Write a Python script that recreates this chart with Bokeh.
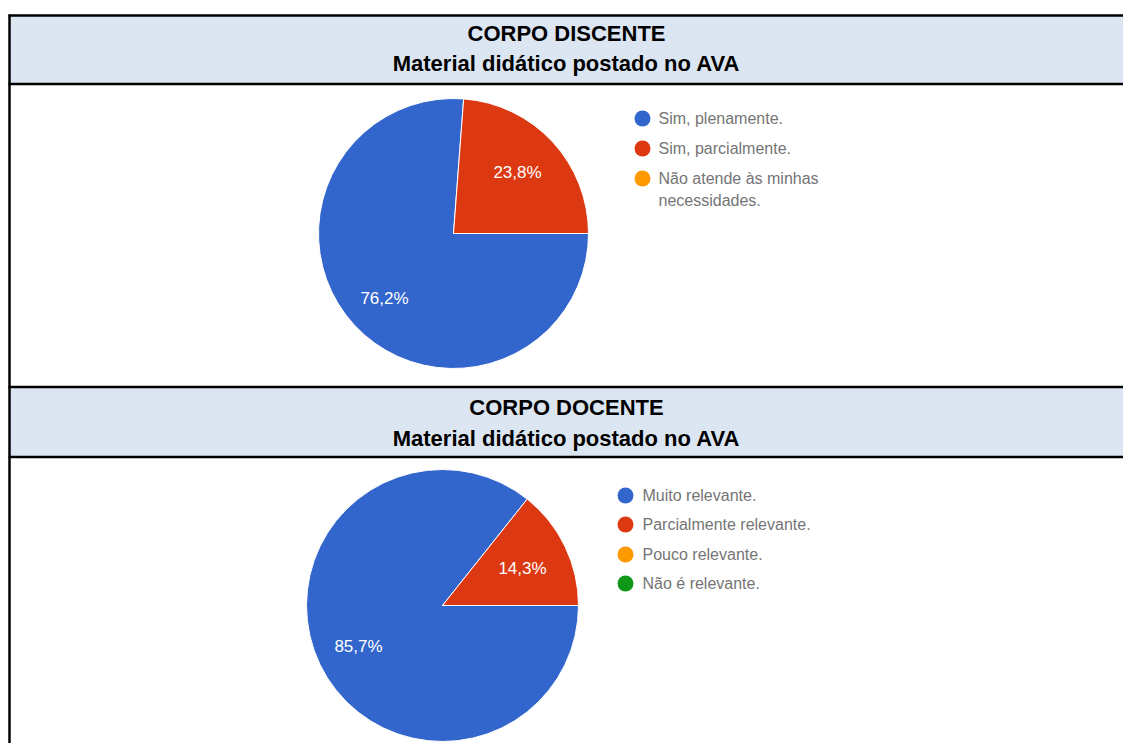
from bokeh.plotting import figure
from bokeh.models import Range1d
from bokeh.core.properties import value
from bokeh.embed import file_html
from bokeh.resources import INLINE
import math

# ---- data ----
titles_top = ["CORPO DISCENTE", "Material didático postado no AVA"]
titles_bottom = ["CORPO DOCENTE", "Material didático postado no AVA"]

disc_categories = ["Sim, plenamente.", "Sim, parcialmente.", "Não atende às minhas\nnecessidades."]
disc_values = [76.2, 23.8, 0.0]

doc_categories = ["Muito relevante.", "Parcialmente relevante.", "Pouco relevante.", "Não é relevante."]
doc_values = [85.7, 14.3, 0.0, 0.0]

colors = ["#3366CC", "#DC3912", "#FF9900", "#109618"]

W, H = 1123, 743


def Y(py):
    return H - py


def X(px):
    return px


p = figure(width=W, height=H, output_backend="svg", toolbar_location=None,
           x_range=Range1d(0, W), y_range=Range1d(0, H),
           x_axis_location=None, y_axis_location=None, min_border=0)
p.grid.visible = False
p.outline_line_color = None
p.background_fill_color = "white"

font = value("Liberation Sans")

# header bands
for top, bot in [(15, 83), (387, 456)]:
    p.quad(left=X(9), right=W, top=Y(top), bottom=Y(bot), fill_color="#DCE6F2", line_color=None)

# horizontal table lines
for yy in [15, 83.5, 386.5, 456.5]:
    p.segment(x0=X(8), y0=Y(yy), x1=W, y1=Y(yy), line_color="black", line_width=2.5)
# left border
p.segment(x0=X(9), y0=Y(14), x1=X(9), y1=0, line_color="black", line_width=2.5)

# titles
for lines, ys in [(titles_top, (33, 63)), (titles_bottom, (407, 438))]:
    p.text(x=[X(566)] * 2, y=[Y(ys[0]), Y(ys[1])], text=lines,
           text_font=font, text_font_style="bold", text_font_size="22px",
           text_align="center", text_baseline="middle", text_color="black")


def pie(cx, cy, r, vals, labels_pos):
    total = sum(vals)
    cum = 0.0
    for i, v in enumerate(vals):
        if v <= 0:
            continue
        a0 = -2 * math.pi * cum / total
        a1 = -2 * math.pi * (cum + v) / total
        p.wedge(x=X(cx), y=Y(cy), radius=r, start_angle=a0, end_angle=a1,
                direction="clock", fill_color=colors[i], line_color="white", line_width=1)
        cum += v
    for (lx, ly), v in zip(labels_pos, [v for v in vals if v > 0]):
        p.text(x=[X(lx)], y=[Y(ly)], text=[f"{v:.1f}%".replace(".", ",")],
               text_font=font, text_font_size="17px", text_color="white",
               text_align="center", text_baseline="middle")


pie(453, 233, 135, disc_values, [(384, 298), (517, 172)])
pie(442, 605, 136, doc_values, [(358, 646), (522, 568)])


def legend(cx, tx, ys, cats):
    for i, (cat, yy) in enumerate(zip(cats, ys)):
        p.scatter(x=[X(cx)], y=[Y(yy)], size=16, marker="circle",
                  fill_color=colors[i], line_color=None)
        for j, line in enumerate(cat.split("\n")):
            p.text(x=[X(tx)], y=[Y(yy + 22 * j)], text=[line],
                   text_font=font, text_font_size="16px", text_color="#757575",
                   text_align="left", text_baseline="middle")


legend(642, 658, [118, 148, 178], disc_categories)
legend(625, 642, [495, 524, 554, 583], doc_categories)

open("out.html", "w").write(file_html(p, INLINE))
